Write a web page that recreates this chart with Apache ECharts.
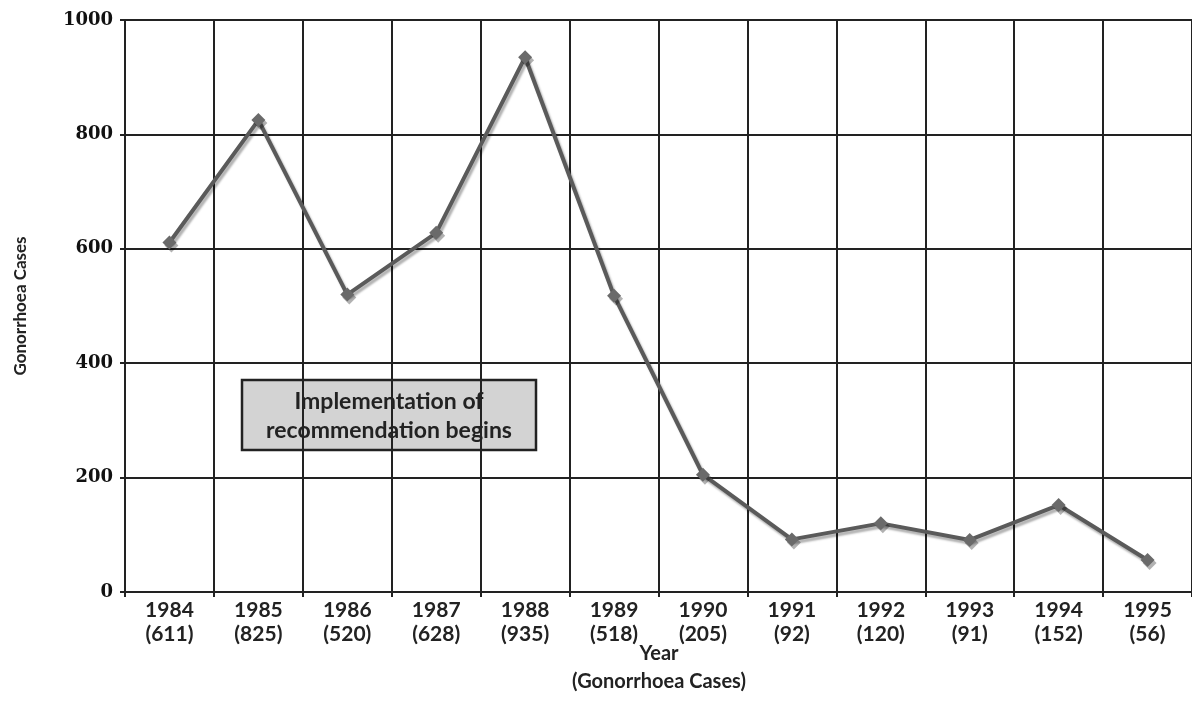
<!DOCTYPE html>
<html lang="en">
<head>
    <meta charset="UTF-8">
    <title>Gonorrhoea Cases</title>
    <script type="text/javascript" src="https://cdn.jsdelivr.net/npm/echarts@6/dist/echarts.min.js"></script>
    <style>
        html, body { margin: 0; padding: 0; background: #fff; }
        #chart { width: 1192px; height: 722px; }
    </style>
</head>
<body>
<div id="chart"></div>
<script>
    const years = ['1984', '1985', '1986', '1987', '1988', '1989', '1990', '1991', '1992', '1993', '1994', '1995'];
    const cases = [611, 825, 520, 628, 935, 518, 205, 92, 120, 91, 152, 56];
    const yTicks = [0, 200, 400, 600, 800, 1000];
    const note = ['Implementation of', 'recommendation begins'];

    const sans = 'Lato, "Open Sans", sans-serif';
    const serif = '"DejaVu Serif", "Liberation Serif", serif';

    const chart = echarts.init(document.getElementById('chart'));
    const option = {
        animation: false,
        grid: { left: 125, top: 20, right: -1, bottom: 130, containLabel: false },
        xAxis: {
            type: 'category',
            data: years,
            boundaryGap: true,
            axisLine: { lineStyle: { color: '#222', width: 2 } },
            axisTick: { show: true, length: 5, lineStyle: { color: '#222', width: 2 } },
            splitLine: { show: true, lineStyle: { color: '#222', width: 2 } },
            axisLabel: {
                margin: 6,
                color: '#222',
                fontFamily: sans,
                fontWeight: 'bold',
                fontSize: 21,
                lineHeight: 24,
                formatter: (v, i) => v + '\n(' + cases[i] + ')'
            }
        },
        yAxis: {
            type: 'value',
            min: yTicks[0],
            max: yTicks[yTicks.length - 1],
            interval: 200,
            name: 'Gonorrhoea Cases',
            nameLocation: 'middle',
            nameRotate: 90,
            nameGap: 96,
            nameTextStyle: { color: '#222', fontFamily: sans, fontWeight: 'bold', fontSize: 17 },
            axisLine: { show: true, lineStyle: { color: '#222', width: 2 } },
            axisTick: { show: true, length: 5, lineStyle: { color: '#222', width: 2 } },
            splitLine: { show: true, lineStyle: { color: '#222', width: 2 } },
            axisLabel: { margin: 12, color: '#111', fontFamily: serif, fontWeight: 'bold', fontSize: 18,
                         formatter: v => String(v) }
        },
        series: [{
            type: 'line',
            data: cases,
            symbol: 'diamond',
            symbolSize: 14,
            itemStyle: { color: '#6a6a6a', shadowColor: 'rgba(0,0,0,0.3)', shadowOffsetX: 2, shadowOffsetY: 3 },
            lineStyle: { color: '#5a5a5a', width: 4, shadowColor: 'rgba(0,0,0,0.3)', shadowOffsetX: 2, shadowOffsetY: 3, shadowBlur: 2 },
            z: 5
        }],
        graphic: [
            {
                type: 'group',
                z: 10,
                children: [
                    { type: 'rect', shape: { x: 242, y: 380, width: 294, height: 70 },
                      style: { fill: '#d3d3d3', stroke: '#222', lineWidth: 2.5 } },
                    { type: 'text', x: 389, y: 416,
                      style: { text: note.join('\n'), fill: '#222', font: 'bold 23px ' + sans,
                               textAlign: 'center', textVerticalAlign: 'middle', lineHeight: 29 } }
                ]
            },
            { type: 'text', x: 659, y: 668,
              style: { text: 'Year\n(Gonorrhoea Cases)', fill: '#222', font: 'bold 20px ' + sans,
                       textAlign: 'center', textVerticalAlign: 'middle', lineHeight: 28 } }
        ]
    };
    chart.setOption(option);
    window.onresize = chart.resize;
</script>
</body>
</html>
